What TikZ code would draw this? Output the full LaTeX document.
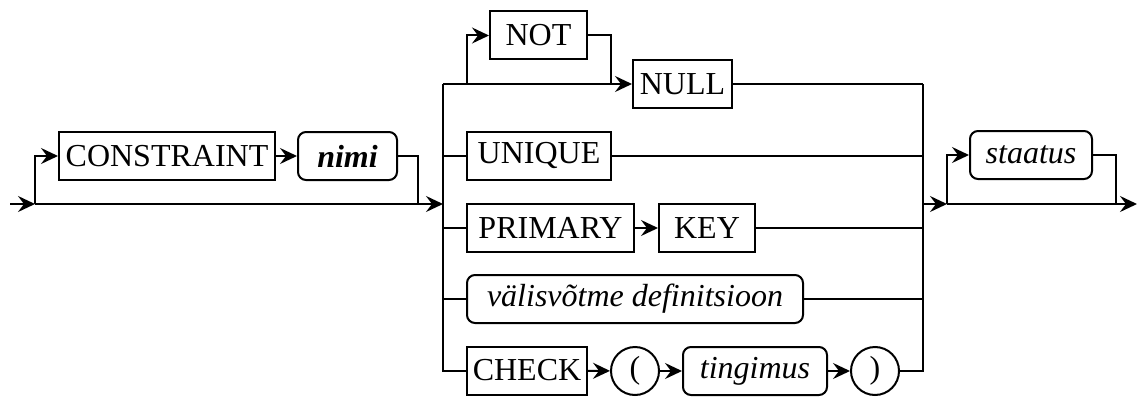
\documentclass[tikz,border=0pt]{standalone}
\usepackage{fontspec}
\setmainfont{Liberation Serif}
\usepackage{tikz}
\usetikzlibrary{
  arrows.meta,
  shapes.geometric
}
\tikzset{
  every railroad/.style={line width=2pt},
  flow/.style={-{Stealth[length=17pt,width=16pt,inset=6pt]}},
}
\newcommand\railfont{\fontsize{32}{38}\selectfont}

\begin{document}
\begin{tikzpicture}[
  x=1pt, y=-1pt,
  every railroad,
  every node/.style={font=\railfont, inner sep=0pt, minimum height=48pt},
  terminal/.style={draw},
  nonterminal/.style={draw, rounded corners=8pt, font=\railfont\itshape},
  symbol/.style={draw, circle, minimum size=48pt},
]
\useasboundingbox (0,0) rectangle (1137,396);

% optional constraint name
\node[terminal, minimum width=216pt] (constraint) at (167,156) {CONSTRAINT};
\node[nonterminal, minimum width=99pt, font=\railfont\bfseries\itshape] (nimi) at (347.5,156) {nimi};

% the choice of constraint kinds
\node[terminal, minimum width=97pt] (not) at (538.5,35.5) {NOT};
\node[terminal, minimum width=99pt] (null) at (682.5,84) {NULL};
\node[terminal, minimum width=144pt] (unique) at (539,155.5) {UNIQUE};
\node[terminal, minimum width=167pt] (primary) at (550.5,228) {PRIMARY};
\node[terminal, minimum width=96pt] (key) at (707,228) {KEY};
\node[nonterminal, minimum width=336pt] (valis) at (635,299) {välisvõtme definitsioon};
\node[terminal, minimum width=120pt] (check) at (527,370.5) {CHECK};
\node[symbol] (lpar) at (635,371) {(};
\node[nonterminal, minimum width=144pt] (tingimus) at (755,371) {tingimus};
\node[symbol] (rpar) at (875,371) {)};

% optional status
\node[nonterminal, minimum width=122pt] (staatus) at (1031,155) {staatus};

\coordinate (entry) at (10,204);
\coordinate (split) at (35,204);
\coordinate (join) at (418,204);
\coordinate (choiceIn) at (443,204);
\coordinate (barL) at (443,84);
\coordinate (notSplit) at (467,84);
\coordinate (notJoin) at (611,84);
\coordinate (barR) at (923,84);
\coordinate (choiceOut) at (923,204);
\coordinate (optSplit) at (947,204);
\coordinate (optJoin) at (1116,204);
\coordinate (exit) at (1137,204);

\draw[flow] (entry) -- (split);
\draw[flow] (split) |- (constraint.west);
\draw[flow] (constraint) -- (nimi);
\draw (nimi.east) -| (join);
\draw[flow] (split) -- (choiceIn);

% rails on both sides of the choice
\draw (barL) |- (check.west);
\draw (barR) |- (rpar.east);

\draw[flow] (notSplit) |- (not.west);
\draw (not.east) -| (notJoin);
\draw[flow] (barL) -- (null.west);
\draw (null.east) -- (barR);

\draw (barL |- unique.west) -- (unique.west);
\draw (unique.east) -- (barR |- unique.east);
\draw (barL |- primary.west) -- (primary.west);
\draw[flow] (primary) -- (key);
\draw (key.east) -- (barR |- key.east);
\draw (barL |- valis.west) -- (valis.west);
\draw (valis.east) -- (barR |- valis.east);
\draw[flow] (check) -- (lpar);
\draw[flow] (lpar) -- (tingimus);
\draw[flow] (tingimus) -- (rpar);

\draw[flow] (choiceOut) -- (optSplit);
\draw[flow] (optSplit) |- (staatus.west);
\draw (staatus.east) -| (optJoin);
\draw[flow] (optSplit) -- (exit);
\end{tikzpicture}
\end{document}
